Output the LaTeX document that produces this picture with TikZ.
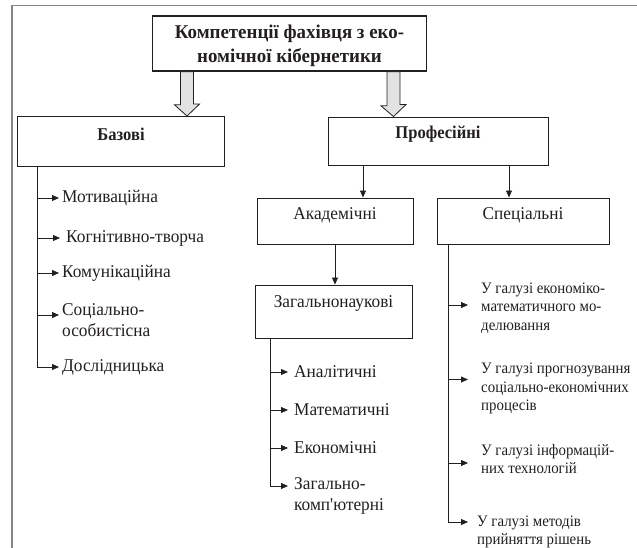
\documentclass[tikz,border=0pt]{standalone}
\usepackage{fontspec}
\setmainfont{Liberation Serif}[Ligatures=TeXOff]
\newfontfamily\bodyf{Liberation Serif}[FakeStretch=0.96, Ligatures=TeXOff]
\newfontfamily\narf{Liberation Serif}[FakeStretch=0.93, Ligatures=TeXOff]
\newfontfamily\cbf{Liberation Serif}[FakeStretch=0.92, Ligatures=TeXOff]
\newfontfamily\tbf{Liberation Serif}[FakeStretch=0.97, Ligatures=TeXOff]
\usetikzlibrary{arrows.meta,calc}
\definecolor{ink}{HTML}{231F20}
\definecolor{frm}{HTML}{858585}
\definecolor{blkfill}{HTML}{E2E2E2}
\tikzset{
  box/.style={draw=ink, line width=0.9pt, rectangle, inner sep=0pt},
  ttl/.style={font=\fontsize{19.5}{24}\tbf\bfseries, text=ink, align=center, inner sep=0pt},
  hdr/.style={font=\fontsize{18}{20}\cbf\bfseries, text=ink, inner sep=0pt},
  lbl/.style={font=\fontsize{18}{20}\bodyf, text=ink, inner sep=0pt},
  itm/.style={font=\fontsize{18}{20.5}\bodyf, text=ink, align=left, anchor=west, inner sep=0pt},
  sitm/.style={font=\fontsize{16}{18.5}\narf, text=ink, align=left, anchor=west, inner sep=0pt},
  arr/.style={draw=ink, line width=0.8pt, -{Triangle[length=7pt,width=6pt]}},
  ln/.style={draw=ink, line width=0.8pt},
  blk/.style={draw=ink, line width=0.8pt, fill=blkfill, line join=miter},
}
\begin{document}
\begin{tikzpicture}[x=1pt,y=-1pt]
\useasboundingbox (0,0) rectangle (637,548);
% frame (only top and left visible)
\draw[frm, line width=1.8pt] (637,5.5) -- (12,5.5) -- (12,548);

% title
\node[box, line width=1.6pt, minimum width=274, minimum height=55] (title) at (289.5,43.5) {};
\node[ttl] (titletxt) at (289.5,46) {Компетенції фахівця з еко-\\номічної кібернетики};

% main boxes
\node[box, minimum width=207, minimum height=50] (bas) at (120.5,141.5) {};
\node[hdr] (bastxt) at (121,134) {Базові};
\node[box, minimum width=220, minimum height=48] (prof) at (438,141) {};
\node[hdr] (proftxt) at (438,134) {Професійні};

% block arrows
\coordinate (bal) at (187,0);
\coordinate (bar) at (393.5,0);
\draw[blk] ($(title.south -| bal)+(-6.5,0)$) -- ++(0,33) -- ++(-6,0) -- (bas.north -| bal) -- ++(12.5,-12) -- ++(-6,0) -- ($(title.south -| bal)+(6.5,0)$) -- cycle;
\draw[blk] ($(title.south -| bar)+(-6.5,0)$) -- ++(0,34) -- ++(-6,0) -- (prof.north -| bar) -- ++(12.5,-12) -- ++(-6,0) -- ($(title.south -| bar)+(6.5,0)$) -- cycle;

% second level
\node[box, minimum width=156, minimum height=46] (akad) at (335,221) {};
\node[lbl] (akadtxt) at (335,215) {Академічні};
\node[box, minimum width=172, minimum height=46] (spec) at (523,221) {};
\node[lbl] (spectxt) at (523,215) {Спеціальні};
\node[box, minimum width=157, minimum height=53] (zag) at (333.5,311.5) {};
\node[lbl] (zagtxt) at (333.5,303) {Загальнонаукові};

\coordinate (pa) at (363,0);
\coordinate (ps) at (509,0);
\coordinate (az) at (335,0);
\draw[arr] (prof.south -| pa) -- (akad.north -| pa);
\draw[arr] (prof.south -| ps) -- (spec.north -| ps);
\draw[arr] (akad.south -| az) -- (zag.north -| az);

% Базові list
\coordinate (bv) at (37,0);
\node[itm] (b1) at (62,198) {Мотиваційна};
\node[itm] (b2) at (66,238) {Когнітивно-творча};
\node[itm] (b3) at (62,273) {Комунікаційна};
\node[itm] (b4) at (62,320) {Соціально-\\особистісна};
\node[itm] (b5) at (62,367) {Дослідницька};
\draw[ln] (bas.south -| bv) -- (bv |- b5.west);
\draw[arr] (bv |- b1.west) -- ($(b1.west)+(-3,0)$);
\draw[arr] (bv |- b2.west) -- ($(b2.west)+(-6,0)$);
\draw[arr] (bv |- b3.west) -- ($(b3.west)+(-3,0)$);
\draw[arr] ($(bv |- b4.west)+(0,-5)$) -- ($(b4.west)+(-3,-5)$);
\draw[arr] (bv |- b5.west) -- ($(b5.west)+(-3,0)$);

% Загальнонаукові list
\coordinate (zv) at (270,0);
\node[itm] (z1) at (294,372) {Аналітичні};
\node[itm] (z2) at (294,410) {Математичні};
\node[itm] (z3) at (294,448) {Економічні};
\node[itm] (z4) at (294,496) {Загально-\\комп'ютерні};
\draw[ln] (zag.south -| zv) -- (zv |- 0,486);
\draw[arr] (zv |- z1.west) -- ($(z1.west)+(-6,0)$);
\draw[arr] (zv |- z2.west) -- ($(z2.west)+(-6,0)$);
\draw[arr] (zv |- z3.west) -- ($(z3.west)+(-6,0)$);
\draw[arr] ($(zv |- z4.west)+(0,-10)$) -- ($(z4.west)+(-6,-10)$);

% Спеціальні list
\coordinate (sv) at (448,0);
\node[sitm] (s1) at (481,308) {У галузі економіко-\\математичного мо-\\делювання};
\node[sitm] (s2) at (481,388.5) {У галузі прогнозування\\соціально-економічних\\процесів};
\node[sitm] (s3) at (481,459) {У галузі інформацій-\\них технологій};
\node[sitm] (s4) at (477,532) {У галузі методів\\прийняття рішень};
\draw[ln] (spec.south -| sv) -- (sv |- 0,522);
\draw[arr] ($(sv |- s1.west)+(0,-3)$) -- ($(s1.west)+(-13,-3)$);
\draw[arr] ($(sv |- s2.west)+(0,-9)$) -- ($(s2.west)+(-13,-9)$);
\draw[arr] ($(sv |- s3.west)+(0,4)$) -- ($(s3.west)+(-13,4)$);
\draw[arr] ($(sv |- s4.west)+(0,-10)$) -- ($(s4.west)+(-9,-10)$);
\end{tikzpicture}
\end{document}
